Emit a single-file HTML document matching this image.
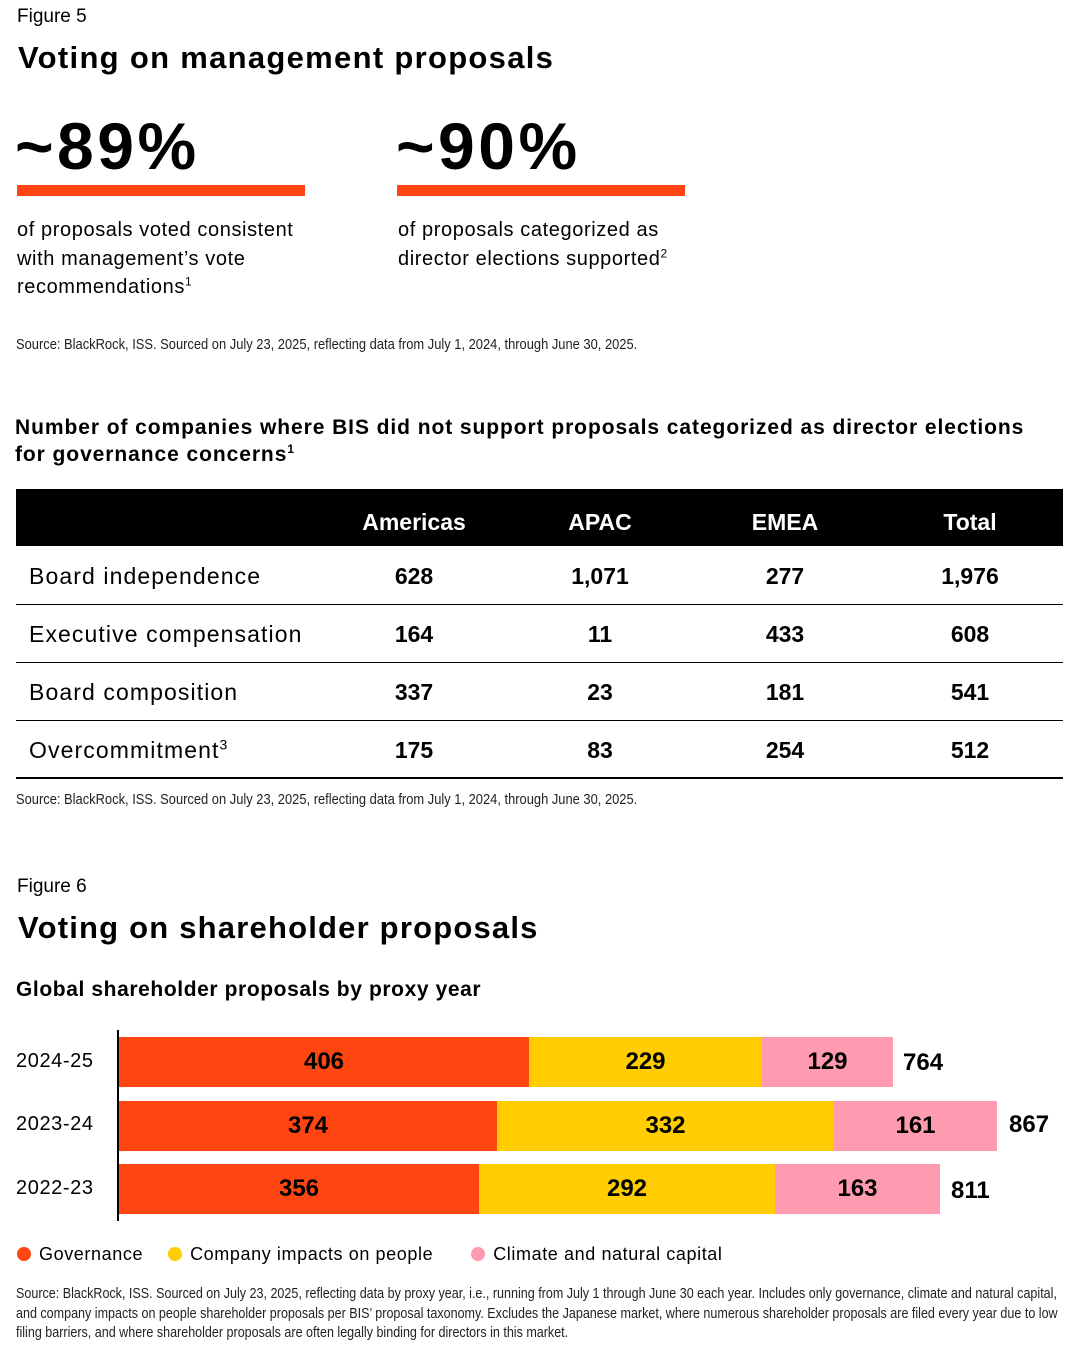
<!DOCTYPE html>
<html><head><meta charset="utf-8"><style>
body{margin:0;width:1086px;height:1358px;background:#fff;font-family:"Liberation Sans",sans-serif;color:#000;position:relative;overflow:hidden}
.a{position:absolute;white-space:nowrap}
.src{font-size:14.5px;color:#222;transform:scaleX(0.89);transform-origin:left top}
.b{font-weight:bold}
sup{line-height:0}
.bar{position:absolute;height:50px;display:flex;align-items:center;justify-content:center;font-weight:bold;font-size:24px}
.hd{font-weight:bold;font-size:18px;color:#fff}
.cell{position:absolute;font-weight:bold;font-size:23px;transform:translateX(-50%)}
.rl{position:absolute;left:29px;font-size:23px;letter-spacing:1.1px}
.line{position:absolute;left:16px;width:1047px;height:1px;background:#000}
.dot{display:inline-block;width:14px;height:14px;border-radius:50%;vertical-align:-1px;margin-right:8px}
</style></head><body>
<div class="a" style="left:17px;top:6px;font-size:19px">Figure 5</div>
<div class="a b" style="left:18px;top:40px;font-size:31px;letter-spacing:1.3px">Voting on management proposals</div>
<div class="a b" style="left:15px;top:108px;font-size:66px;letter-spacing:3.5px">~89%</div>
<div class="a" style="left:17px;top:185px;width:288px;height:11px;background:#ff4612"></div>
<div class="a" style="left:17px;top:216px;font-size:20px;line-height:28.5px;letter-spacing:0.6px">of proposals voted consistent<br>with management’s vote<br>recommendations<sup style="font-size:12px">1</sup></div>
<div class="a b" style="left:396px;top:108px;font-size:66px;letter-spacing:3.5px">~90%</div>
<div class="a" style="left:397px;top:185px;width:288px;height:11px;background:#ff4612"></div>
<div class="a" style="left:398px;top:216px;font-size:20px;line-height:28.5px;letter-spacing:0.6px">of proposals categorized as<br>director elections supported<sup style="font-size:12px">2</sup></div>
<div class="a src" style="left:16px;top:337px">Source: BlackRock, ISS. Sourced on July 23, 2025, reflecting data from July 1, 2024, through June 30, 2025.</div>

<div class="a b" style="left:15px;top:414px;font-size:21px;line-height:27px;letter-spacing:0.93px">Number of companies where BIS did not support proposals categorized as director elections<br>for governance concerns<sup style="font-size:12px">1</sup></div>
<div class="a" style="left:16px;top:489px;width:1047px;height:57px;background:#000"></div>
<div class="cell hd" style="left:414px;top:509px">Americas</div>
<div class="cell hd" style="left:600px;top:509px">APAC</div>
<div class="cell hd" style="left:785px;top:509px">EMEA</div>
<div class="cell hd" style="left:970px;top:509px">Total</div>
<div class="rl" style="top:563px">Board independence</div>
<div class="cell" style="left:414px;top:563px">628</div><div class="cell" style="left:600px;top:563px">1,071</div><div class="cell" style="left:785px;top:563px">277</div><div class="cell" style="left:970px;top:563px">1,976</div>
<div class="line" style="top:604px"></div>
<div class="rl" style="top:621px">Executive compensation</div>
<div class="cell" style="left:414px;top:621px">164</div><div class="cell" style="left:600px;top:621px">11</div><div class="cell" style="left:785px;top:621px">433</div><div class="cell" style="left:970px;top:621px">608</div>
<div class="line" style="top:662px"></div>
<div class="rl" style="top:679px">Board composition</div>
<div class="cell" style="left:414px;top:679px">337</div><div class="cell" style="left:600px;top:679px">23</div><div class="cell" style="left:785px;top:679px">181</div><div class="cell" style="left:970px;top:679px">541</div>
<div class="line" style="top:720px"></div>
<div class="rl" style="top:737px">Overcommitment<sup style="font-size:14px">3</sup></div>
<div class="cell" style="left:414px;top:737px">175</div><div class="cell" style="left:600px;top:737px">83</div><div class="cell" style="left:785px;top:737px">254</div><div class="cell" style="left:970px;top:737px">512</div>
<div class="line" style="top:777px;height:2px"></div>
<div class="a src" style="left:16px;top:792px">Source: BlackRock, ISS. Sourced on July 23, 2025, reflecting data from July 1, 2024, through June 30, 2025.</div>

<div class="a" style="left:17px;top:876px;font-size:19px">Figure 6</div>
<div class="a b" style="left:18px;top:910px;font-size:31px;letter-spacing:1.2px">Voting on shareholder proposals</div>
<div class="a b" style="left:16px;top:978px;font-size:21px;letter-spacing:0.6px">Global shareholder proposals by proxy year</div>

<div class="a" style="left:117px;top:1030px;width:2px;height:191px;background:#000"></div>
<div class="a" style="left:16px;top:1050px;font-size:20px;letter-spacing:0.6px">2024-25</div>
<div class="a" style="left:16px;top:1113px;font-size:20px;letter-spacing:0.6px">2023-24</div>
<div class="a" style="left:16px;top:1177px;font-size:20px;letter-spacing:0.6px">2022-23</div>

<div class="bar" style="left:119px;top:1037px;width:410px;background:#ff4612">406</div>
<div class="bar" style="left:529px;top:1037px;width:233px;background:#ffcd00">229</div>
<div class="bar" style="left:762px;top:1037px;width:131px;background:#ff9bb0">129</div>
<div class="a b" style="left:903px;top:1049px;font-size:24px">764</div>

<div class="bar" style="left:119px;top:1101px;width:378px;background:#ff4612">374</div>
<div class="bar" style="left:497px;top:1101px;width:337px;background:#ffcd00">332</div>
<div class="bar" style="left:834px;top:1101px;width:163px;background:#ff9bb0">161</div>
<div class="a b" style="left:1009px;top:1111px;font-size:24px">867</div>

<div class="bar" style="left:119px;top:1164px;width:360px;background:#ff4612">356</div>
<div class="bar" style="left:479px;top:1164px;width:296px;background:#ffcd00">292</div>
<div class="bar" style="left:775px;top:1164px;width:165px;background:#ff9bb0">163</div>
<div class="a b" style="left:951px;top:1177px;font-size:24px">811</div>

<div class="a" style="left:17px;top:1244px;font-size:18px;letter-spacing:0.6px"><span class="dot" style="background:#ff4612"></span>Governance<span style="display:inline-block;width:25px"></span><span class="dot" style="background:#ffcd00"></span>Company impacts on people<span style="display:inline-block;width:38px"></span><span class="dot" style="background:#ff9bb0"></span>Climate and natural capital</div>
<div class="a src" style="left:16px;top:1285px;line-height:19.5px;transform:scaleX(0.865)">Source: BlackRock, ISS. Sourced on July 23, 2025, reflecting data by proxy year, i.e., running from July 1 through June 30 each year. Includes only governance, climate and natural capital,<br>and company impacts on people shareholder proposals per BIS’ proposal taxonomy. Excludes the Japanese market, where numerous shareholder proposals are filed every year due to low<br>filing barriers, and where shareholder proposals are often legally binding for directors in this market.</div>
</body></html>
